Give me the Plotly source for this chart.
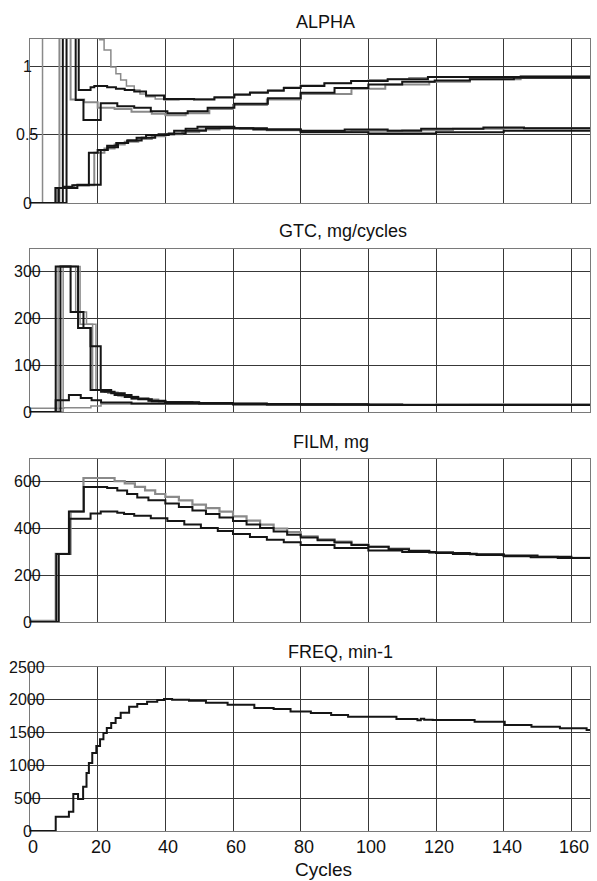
import plotly.graph_objects as go

# ---------------- data ----------------
panel_titles = ["ALPHA", "GTC, mg/cycles", "FILM, mg", "FREQ, min-1"]
x_title = "Cycles"
x_ticks = [0, 20, 40, 60, 80, 100, 120, 140, 160]
x_tick_labels = ["0", "20", "40", "60", "80", "100", "120", "140", "160"]
alpha_ticks = [0, 0.5, 1]
alpha_tick_labels = ["0", "0.5", "1"]
gtc_ticks = [0, 100, 200, 300]
gtc_tick_labels = ["0", "100", "200", "300"]
film_ticks = [0, 200, 400, 600]
film_tick_labels = ["0", "200", "400", "600"]
freq_ticks = [0, 500, 1000, 1500, 2000, 2500]
freq_tick_labels = ["0", "500", "1000", "1500", "2000", "2500"]

# ALPHA series (values above the axis top are off-scale)
alpha_a1_x = [0, 3.7, 20.6, 21.9, 23.9, 25.4, 26.8, 28.5, 30.8, 32.5, 34.3, 37, 39.6, 44, 48.5, 54.5, 60.4, 65, 70.3, 75, 80, 87, 94.9, 100, 105.7, 112, 117.6, 129.4, 145, 166]
alpha_a1_y = [0, 5, 1.2, 1.125, 1.0, 0.95, 0.904, 0.86, 0.83, 0.80, 0.78, 0.765, 0.757, 0.76, 0.765, 0.78, 0.80, 0.815, 0.83, 0.85, 0.865, 0.88, 0.895, 0.905, 0.91, 0.92, 0.925, 0.925, 0.93, 0.93]
alpha_b1_x = [0, 10.8, 14.4, 17.9, 19.0, 22.8, 25.4, 28, 30.8, 34.3, 39.6, 48.5, 54.5, 60.4, 65, 70.3, 75, 80, 87, 94.9, 105.7, 117.6, 129.4, 145, 166]
alpha_b1_y = [0, 5, 0.83, 0.85, 0.86, 0.85, 0.84, 0.83, 0.82, 0.79, 0.765, 0.76, 0.775, 0.795, 0.81, 0.825, 0.845, 0.86, 0.88, 0.897, 0.91, 0.925, 0.925, 0.93, 0.93]
alpha_b2_x = [0, 9.7, 13.5, 15.8, 20.9, 25.8, 30.8, 35.7, 40.6, 46.6, 52.5, 60.4, 70.3, 80, 90, 100, 110, 119.6, 130, 143, 166]
alpha_b2_y = [0, 5, 0.757, 0.61, 0.733, 0.71, 0.70, 0.675, 0.66, 0.675, 0.70, 0.73, 0.77, 0.81, 0.845, 0.87, 0.89, 0.90, 0.91, 0.92, 0.93]
alpha_b3_x = [0, 8.7, 12.0, 16.0, 20.0, 25, 30, 36, 40, 46, 53, 60, 70, 80, 95, 105, 118, 130, 145, 166]
alpha_b3_y = [0, 5, 0.76, 0.74, 0.70, 0.69, 0.67, 0.655, 0.645, 0.66, 0.69, 0.72, 0.76, 0.80, 0.84, 0.87, 0.89, 0.91, 0.92, 0.925]
alpha_l1_x = [0, 7.5, 9.8, 12.5, 17.4, 20, 22.8, 25.5, 28.7, 31.5, 34.3, 38, 42.6, 46, 49.5, 55, 60.4, 70, 80, 93, 105.7, 115.6, 123.5, 134, 146, 166]
alpha_l1_y = [0, 0.11, 0.12, 0.13, 0.37, 0.39, 0.42, 0.44, 0.46, 0.48, 0.50, 0.505, 0.53, 0.545, 0.56, 0.56, 0.55, 0.54, 0.53, 0.54, 0.53, 0.545, 0.545, 0.555, 0.55, 0.55]
alpha_l2_x = [0, 8.0, 13.0, 19.0, 22, 25, 28, 32, 36, 40, 45, 50, 56, 62, 70, 80, 95, 110, 125, 140, 166]
alpha_l2_y = [0, 0.11, 0.13, 0.37, 0.40, 0.43, 0.45, 0.47, 0.49, 0.505, 0.52, 0.54, 0.55, 0.545, 0.535, 0.525, 0.53, 0.535, 0.545, 0.55, 0.545]
alpha_l3_x = [0, 8.5, 14.0, 20.9, 23, 26, 29, 33, 37, 41, 46, 52, 58, 66, 80, 100, 120, 140, 166]
alpha_l3_y = [0, 0.11, 0.135, 0.39, 0.41, 0.44, 0.46, 0.48, 0.50, 0.51, 0.53, 0.55, 0.55, 0.54, 0.52, 0.51, 0.52, 0.53, 0.54]

# GTC series
gtc_g1_x = [0, 7.6, 12.0, 15.8, 17.9, 20.9, 24, 28, 32, 36, 40, 48, 60, 80, 110, 140, 166]
gtc_g1_y = [0, 310, 213, 179, 140, 47, 40, 32, 27, 23, 21, 19, 17, 16, 15, 15, 15]
gtc_g2_x = [0, 8.3, 13.5, 16.7, 18.5, 22, 26, 30, 35, 40, 50, 70, 100, 130, 166]
gtc_g2_y = [0, 310, 213, 187, 47, 42, 34, 28, 24, 21, 18, 16, 15, 16, 16]
gtc_g3_x = [0, 9.0, 14.2, 17.9, 21, 25, 30, 35, 40, 50, 70, 100, 130, 166]
gtc_g3_y = [0, 310, 179, 47, 43, 36, 29, 24, 21, 18, 16, 15, 15, 15]
gtc_g4_x = [0, 9.8, 14.8, 19.5, 23, 27, 32, 38, 45, 60, 90, 120, 166]
gtc_g4_y = [0, 310, 187, 47, 40, 33, 27, 22, 19, 17, 16, 15, 15]
gtc_g5_x = [0, 7.6, 11.5, 15, 18.2, 21, 30, 60, 100, 166]
gtc_g5_y = [0, 25, 36, 30, 25, 20, 18, 16, 15, 16]
gtc_g6_x = [0, 10.0, 18, 21, 40, 80, 120, 166]
gtc_g6_y = [8, 9, 13, 17, 17, 16, 17, 17]

# FILM series
film_f1_x = [0, 7.6, 12.0, 15.8, 25, 28, 31, 34, 37, 40, 44, 48, 52, 56, 60, 64, 68, 72, 76, 80, 85, 90, 95, 100, 106, 112, 118, 125, 132, 140, 148, 156, 166]
film_f1_y = [5, 290, 470, 613, 600, 590, 575, 560, 545, 533, 518, 500, 485, 470, 450, 432, 415, 398, 383, 365, 352, 342, 330, 320, 312, 304, 297, 291, 286, 281, 277, 273, 270]
film_f2_x = [0, 7.8, 11.5, 15.9, 22.8, 25.8, 28.7, 31.7, 35, 40, 44, 48, 52, 56, 60, 64, 68, 72, 76, 80, 85, 90, 95, 100, 106, 112, 118, 125, 132, 140, 148, 156, 166]
film_f2_y = [0, 290, 470, 575, 570, 560, 545, 530, 518, 505, 490, 475, 460, 445, 430, 415, 400, 385, 372, 360, 348, 338, 328, 320, 310, 302, 296, 290, 285, 280, 276, 273, 270]
film_f3_x = [0, 8.5, 11.7, 17.9, 20.9, 25.8, 27.8, 30.8, 35.7, 40.6, 45.6, 50.5, 55.5, 60, 65, 70, 75, 80, 90, 100, 110, 120, 130, 140, 150, 160, 166]
film_f3_y = [0, 290, 440, 462, 470, 465, 460, 452, 442, 430, 415, 400, 387, 375, 362, 350, 340, 328, 315, 304, 298, 294, 288, 283, 278, 272, 268]

# FREQ series
freq_x = [0, 7.6, 11.5, 12.8, 14.2, 15.7, 16.7, 17.4, 18.4, 19.6, 20.7, 21.7, 22.7, 24.0, 25.3, 26.8, 29.3, 31.7, 34.6, 37.6, 39.6, 42, 47, 52, 58.4, 66.3, 72, 77, 83, 89, 94, 108.3, 114.5, 115.5, 116.5, 119, 131.4, 140.3, 148.2, 156.6, 164.5, 166]
freq_y = [0, 218, 294, 564, 488, 675, 884, 1036, 1189, 1296, 1397, 1493, 1570, 1646, 1722, 1803, 1895, 1935, 1971, 1996, 2012, 2000, 1985, 1955, 1925, 1875, 1860, 1820, 1798, 1768, 1742, 1707, 1690, 1710, 1695, 1692, 1666, 1615, 1590, 1565, 1539, 1539]

# ---------------- figure ----------------
BLACK = "#151515"
GREY = "#8a8a8a"
fig = go.Figure()

def add(x, y, color, width, n):
    fig.add_trace(go.Scatter(
        x=x, y=y, mode="lines", line=dict(color=color, width=width, shape="hv"),
        xaxis="x" if n == 1 else f"x{n}", yaxis="y" if n == 1 else f"y{n}",
        showlegend=False, hoverinfo="skip"))

add(alpha_a1_x, alpha_a1_y, GREY, 1.5, 1)
add(alpha_b3_x, alpha_b3_y, GREY, 2, 1)
add(alpha_l2_x, alpha_l2_y, GREY, 2, 1)
add(alpha_b1_x, alpha_b1_y, BLACK, 2, 1)
add(alpha_b2_x, alpha_b2_y, BLACK, 2, 1)
add(alpha_l1_x, alpha_l1_y, BLACK, 2, 1)
add(alpha_l3_x, alpha_l3_y, BLACK, 2, 1)

add(gtc_g6_x, gtc_g6_y, GREY, 1.5, 2)
add(gtc_g2_x, gtc_g2_y, GREY, 1.5, 2)
add(gtc_g4_x, gtc_g4_y, GREY, 1.5, 2)
add(gtc_g1_x, gtc_g1_y, BLACK, 2, 2)
add(gtc_g3_x, gtc_g3_y, BLACK, 2, 2)
add(gtc_g5_x, gtc_g5_y, BLACK, 2, 2)

add(film_f1_x, film_f1_y, GREY, 2.2, 3)
add(film_f2_x, film_f2_y, BLACK, 2, 3)
add(film_f3_x, film_f3_y, BLACK, 2, 3)

add(freq_x, freq_y, BLACK, 2, 4)

W, H = 597, 881
ML, MR, MT, MB = 30, 7, 39, 50
PW = W - ML - MR
PH = H - MT - MB

def py(pix):
    return (H - MB - pix) / PH

def px(pix):
    return (pix - ML) / PW

# panel pixel extents (top, bottom)
panels = [(39, 203), (249, 412), (459, 622), (667, 831)]
yranges = [[0, 1.205], [0, 347], [0, 694], [0, 2500]]
yticks = [alpha_ticks, gtc_ticks, film_ticks, freq_ticks]
ytick_labels = [alpha_tick_labels, gtc_tick_labels, film_tick_labels, freq_tick_labels]

axis_common = dict(showline=True, mirror=True, linecolor="#7a7a7a", linewidth=1,
                   showgrid=True, gridcolor="#383838", gridwidth=1, zeroline=False,
                   ticks="", fixedrange=True)
layout = dict(width=W, height=H, margin=dict(l=ML, r=MR, t=MT, b=MB),
              paper_bgcolor="white", plot_bgcolor="white",
              font=dict(family="Liberation Sans, Arial, sans-serif", color="#111"))

for i in range(4):
    n = i + 1
    xs = "xaxis" if n == 1 else f"xaxis{n}"
    ys = "yaxis" if n == 1 else f"yaxis{n}"
    xa = dict(axis_common, domain=[0, 1], range=[0, 165.5], tickvals=x_ticks,
              anchor="y" if n == 1 else f"y{n}", showticklabels=False)
    if n != 4:
        xa.update(matches="x4")
    layout[xs] = xa
    top, bot = panels[i]
    layout[ys] = dict(axis_common, domain=[py(bot), py(top)], range=yranges[i],
                      tickvals=yticks[i], showticklabels=False,
                      anchor="x" if n == 1 else f"x{n}")

annotations = []
title_pos = [(325, 22), (343, 231), (331, 442), (340, 652)]
for t, (cx, cy) in zip(panel_titles, title_pos):
    annotations.append(dict(text=t, xref="paper", yref="paper", x=px(cx), y=py(cy),
                            xanchor="center", yanchor="middle", showarrow=False,
                            font=dict(size=18, color="#111")))
for i in range(4):
    yr = "y" if i == 0 else f"y{i + 1}"
    for v, lab in zip(yticks[i], ytick_labels[i]):
        annotations.append(dict(text=lab, xref="paper", yref=yr, x=px(27), y=v,
                                xanchor="center", yanchor="middle", showarrow=False,
                                font=dict(size=16, color="#111")))
# x tick labels (bottom panel), placed at tick values
for v, lab in zip(x_ticks, x_tick_labels):
    annotations.append(dict(text=lab, xref="x4", yref="paper", x=v, y=py(847),
                            xanchor="center", yanchor="middle", xshift=3, showarrow=False,
                            font=dict(size=18, color="#111")))
annotations.append(dict(text=x_title, xref="paper", yref="paper", x=px(323), y=py(869),
                        xanchor="center", yanchor="middle", showarrow=False,
                        font=dict(size=19, color="#111")))
layout["annotations"] = annotations

fig.update_layout(**layout)
fig.write_html("out.html", config={"displayModeBar": False},
               post_script="document.body.style.margin='0px';document.body.style.padding='0px';")
